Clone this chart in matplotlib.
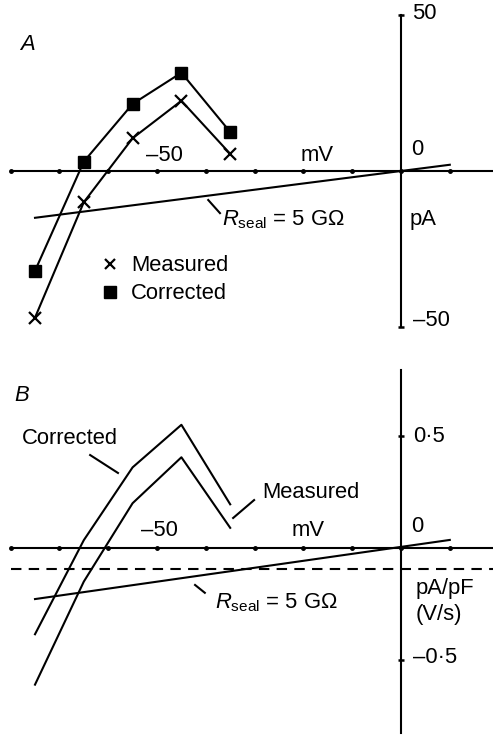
import matplotlib
matplotlib.use('Agg')
import matplotlib.pyplot as plt
from matplotlib.lines import Line2D

plt.rcParams['font.family'] = ['Liberation Sans', 'DejaVu Sans']
plt.rcParams['mathtext.fontset'] = 'custom'
plt.rcParams['mathtext.rm'] = 'Liberation Sans'
plt.rcParams['mathtext.it'] = 'Liberation Sans:italic'

# test potentials (mV)
volts = [-75, -65, -55, -45, -35]

# panel A, currents (pA)
a_measured = [-47, -10, 10.5, 22.5, 5.5]
a_corrected = [-32, 3, 21.5, 31.5, 12.5]
a_seal_v = [-75, 10]
a_seal_i = [-15, 2]

# panel B, current density (pA/pF)
b_measured = [-0.61, -0.15, 0.20, 0.405, 0.09]
b_corrected = [-0.385, 0.035, 0.36, 0.55, 0.195]
b_seal_v = [-75, 10]
b_seal_i = [-0.228, 0.036]
b_dashed = -0.094

xticks = [-80, -70, -60, -50, -40, -30, -20, -10, 0, 10]

W, H = 493, 735
fig = plt.figure(figsize=(W / 100, H / 100), dpi=100)

# x pixel = 401 + 4.88 * mV
xlim = ((0 - 401) / 4.88, (W - 401) / 4.88)

lw = 1.5
fs = 15.8

# ---------------- panel A ----------------
axA = fig.add_axes([0, 1 - 350 / H, 1, 350 / H])
axA.set_xlim(*xlim)
axA.set_ylim((171 - 350) / 3.12, 171 / 3.12)
axA.set_axis_off()

axA.plot([-80, xlim[1]], [0, 0], color='black', lw=lw)
axA.plot(xticks, [0] * len(xticks), 'o', color='black', ms=2.5)
axA.plot([0, 0], [-50, 50], color='black', lw=lw)
axA.plot([0, 0], [-50, 50], '_', color='black', ms=5, mew=1.8)

axA.plot(volts, a_measured, color='black', lw=lw, marker='x', ms=8.5, mew=1.6)
axA.plot(volts, a_corrected, color='black', lw=lw, marker='s', ms=8)
axA.plot(a_seal_v, a_seal_i, color='black', lw=lw)
axA.plot([-39.5, -37.1], [-9.3, -13.5], color='black', lw=lw)

axA.text(-76.6, 40.4, 'A', fontsize=fs, style='italic', ha='center', va='center')
axA.text(-48.5, 5, '–50', fontsize=fs, ha='center', va='center')
axA.text(-17.2, 5.1, 'mV', fontsize=fs, ha='center', va='center')
axA.text(3.3, 7, '0', fontsize=fs, ha='center', va='center')
axA.text(2.2, 50.5, '50', fontsize=fs, ha='left', va='center')
axA.text(1.8, -15.7, 'pA', fontsize=fs, ha='left', va='center')
axA.text(2.4, -47.8, '–50', fontsize=fs, ha='left', va='center')
axA.text(-36.7, -15.7, r'$R_{\rm seal}$ = 5 G$\Omega$', fontsize=fs, ha='left', va='center')

handles = [Line2D([], [], color='black', marker='x', ls='none', ms=7, mew=1.6),
           Line2D([], [], color='black', marker='s', ls='none', ms=8)]
axA.legend(handles, ['Measured', 'Corrected'], loc='upper left',
           bbox_to_anchor=(-63.6, -23.5), bbox_transform=axA.transData,
           frameon=False, fontsize=fs, handlelength=0.8, handletextpad=0.55,
           labelspacing=0.32, borderpad=0)

# ---------------- panel B ----------------
axB = fig.add_axes([0, 0, 1, (H - 355) / H])
axB.set_xlim(*xlim)
axB.set_ylim((548 - 735) / 224, (548 - 355) / 224)
axB.set_axis_off()

axB.plot([-80, xlim[1]], [0, 0], color='black', lw=lw)
axB.plot(xticks, [0] * len(xticks), 'o', color='black', ms=2.5)
axB.plot([0, 0], [-0.826, 0.795], color='black', lw=lw)
axB.plot([0, 0], [-0.5, 0.5], '_', color='black', ms=5, mew=1.8)
axB.plot([-80, xlim[1]], [b_dashed, b_dashed], color='black', lw=lw, ls=(0, (5, 3.5)))

axB.plot(volts, b_measured, color='black', lw=lw)
axB.plot(volts, b_corrected, color='black', lw=lw)
axB.plot(b_seal_v, b_seal_i, color='black', lw=lw)

axB.plot([-63.7, -58.0], [0.415, 0.335], color='black', lw=lw)
axB.plot([-34.4, -30.1], [0.134, 0.214], color='black', lw=lw)
axB.plot([-42.2, -40.2], [-0.165, -0.2], color='black', lw=lw)

axB.text(-77.7, 0.683, 'B', fontsize=fs, style='italic', ha='center', va='center')
axB.text(-67.8, 0.487, 'Corrected', fontsize=fs, ha='center', va='center')
axB.text(-28.5, 0.25, 'Measured', fontsize=fs, ha='left', va='center')
axB.text(-49.5, 0.08, '–50', fontsize=fs, ha='center', va='center')
axB.text(-19.1, 0.08, 'mV', fontsize=fs, ha='center', va='center')
axB.text(3.3, 0.094, '0', fontsize=fs, ha='center', va='center')
axB.text(2.5, 0.5, '0·5', fontsize=fs, ha='left', va='center')
axB.text(2.5, -0.49, '–0·5', fontsize=fs, ha='left', va='center')
axB.text(2.9, -0.179, 'pA/pF', fontsize=fs, ha='left', va='center')
axB.text(2.9, -0.299, '(V/s)', fontsize=fs, ha='left', va='center')
axB.text(-38.1, -0.246, r'$R_{\rm seal}$ = 5 G$\Omega$', fontsize=fs, ha='left', va='center')

fig.savefig('out.png', dpi=100)
